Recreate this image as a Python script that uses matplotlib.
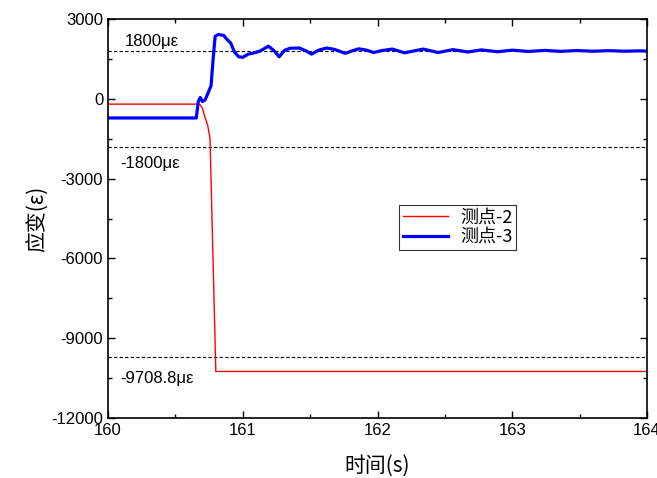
import matplotlib
matplotlib.use('Agg')
import matplotlib.pyplot as plt
from matplotlib.ticker import MultipleLocator

plt.rcParams['font.family'] = ['Liberation Sans', 'Noto Sans CJK SC', 'DejaVu Sans']
plt.rcParams['axes.unicode_minus'] = False

# strain history of point 2 (red)
t2 = [160.0, 160.68, 160.70, 160.72, 160.74, 160.757, 160.80, 164.0]
s2 = [-200, -200, -350, -700, -1000, -1500, -10250, -10250]

# strain history of point 3 (blue)
t3 = [160.00, 160.655, 160.67, 160.685, 160.70, 160.72, 160.745, 160.765, 160.78,
      160.795, 160.82, 160.86, 160.88, 160.91, 160.94, 160.97, 161.00, 161.04,
      161.08, 161.13, 161.19, 161.23, 161.27, 161.31, 161.35, 161.42, 161.47,
      161.51, 161.56, 161.62, 161.68, 161.76, 161.81, 161.86, 161.92, 161.97,
      162.04, 162.11, 162.20, 162.34, 162.45, 162.56, 162.67, 162.77, 162.89,
      163.00, 163.12, 163.24, 163.36, 163.48, 163.60, 163.72, 163.84, 163.95, 164.0]
s3 = [-720, -720, -100, 50, -100, -50, 250, 500, 1500,
      2350, 2420, 2380, 2250, 2100, 1750, 1580, 1560, 1680,
      1720, 1800, 1980, 1820, 1580, 1820, 1900, 1910, 1800,
      1680, 1820, 1910, 1860, 1710, 1800, 1880, 1830, 1740,
      1820, 1870, 1730, 1870, 1740, 1850, 1760, 1840, 1770,
      1830, 1780, 1820, 1785, 1815, 1790, 1810, 1790, 1805, 1790]

ref_levels = [1800, -1800, -9708.8]
ref_labels = ['1800με', '-1800με', '-9708.8με']
ref_label_y = [2150, -2450, -10500]

fig = plt.figure(figsize=(6.57, 4.78), dpi=100)
ax = fig.add_axes([0.1644, 0.1255, 0.8204, 0.8347])

for lvl in ref_levels:
    ax.axhline(lvl, color='black', linestyle=(0, (3, 2)), linewidth=0.8)

ax.plot(t2, s2, color='#ff0000', linewidth=1.0, label='测点-2')
ax.plot(t3, s3, color='#0000ff', linewidth=2.3, label='测点-3')

for lbl, y in zip(ref_labels, ref_label_y):
    x = 160.125 if lbl == '1800με' else 160.09
    ax.text(x, y, lbl, fontsize=12, va='center', ha='left')

ax.set_xlim(160, 164)
ax.set_ylim(-12000, 3000)
ax.xaxis.set_major_locator(MultipleLocator(1))
ax.xaxis.set_minor_locator(MultipleLocator(0.5))
ax.yaxis.set_major_locator(MultipleLocator(3000))
ax.yaxis.set_minor_locator(MultipleLocator(1500))
ax.tick_params(which='both', direction='in', top=True, right=True, labelsize=12, width=1.0)
ax.tick_params(which='major', length=5)
ax.tick_params(which='minor', length=3)
for sp in ax.spines.values():
    sp.set_linewidth(1.2)

ax.set_xlabel('时间(s)', fontsize=15, family=['Noto Sans CJK SC', 'DejaVu Sans'], labelpad=12)
ax.set_ylabel('应变(ε)', fontsize=15, family=['Noto Sans CJK SC', 'DejaVu Sans'], labelpad=2)

leg = ax.legend(loc='upper left', bbox_to_anchor=(0.54, 0.535),
                prop={'family': ['Noto Sans CJK SC', 'DejaVu Sans'], 'size': 13},
                frameon=True, fancybox=False, handlelength=2.5, borderpad=0.2,
                labelspacing=0.1, handletextpad=0.7, borderaxespad=0)
leg.get_frame().set_edgecolor('black')
leg.get_frame().set_linewidth(0.8)

fig.savefig('out.png', dpi=100)
